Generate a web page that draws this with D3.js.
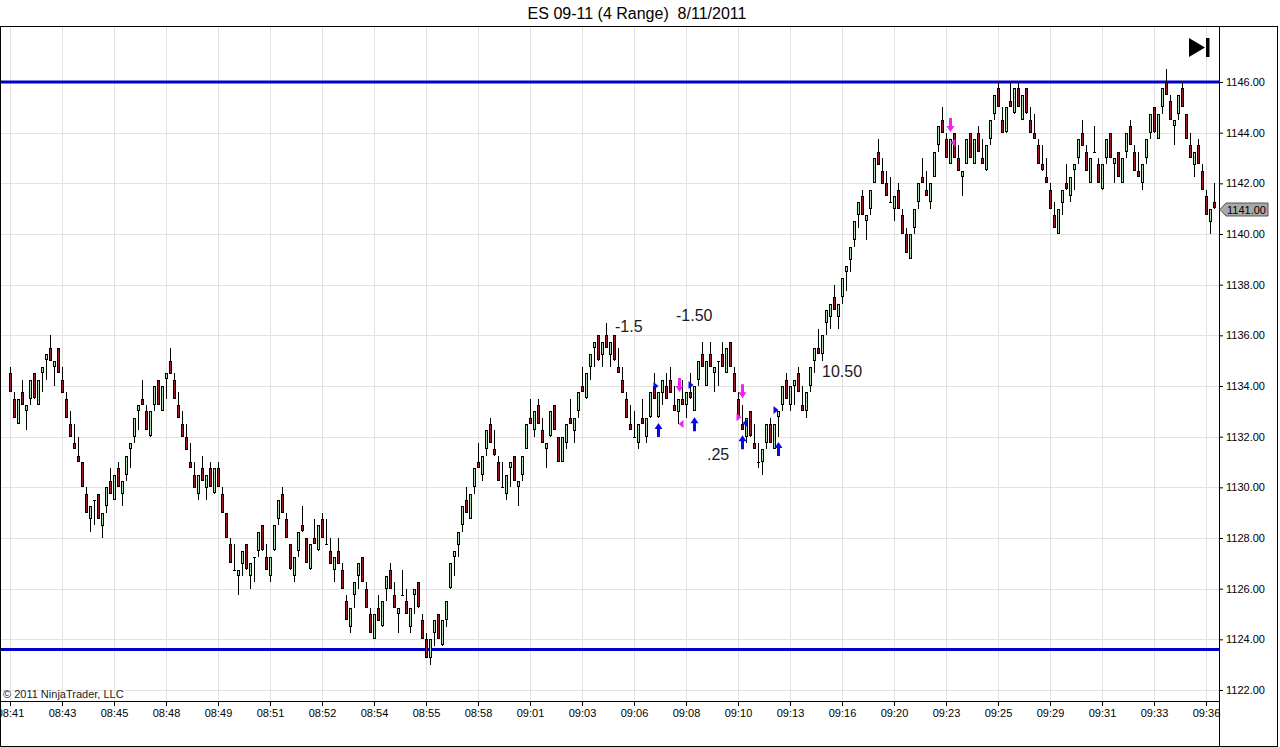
<!DOCTYPE html>
<html>
<head>
<meta charset="utf-8">
<script src="https://cdn.jsdelivr.net/npm/d3@7"></script>
<style>
  body { margin: 0; background: #fff; }
  svg text { font-family: Arial, "Liberation Sans", sans-serif; }
</style>
</head>
<body>
<div id="container"></div>
<script>
// ES 09-11, 4 tick range bars, 8/11/2011
const opens = [
  1134.5,1133.5,1132.5,1133.75,1133,1133.5,1134.5,1133.25,1134.5,1135,
  1135.5,1134.75,1135.5,1134.25,1133.5,1132.5,1131.75,1131.25,1131,1129.75,
  1128.75,1129.5,1129.75,1128.5,1129.25,1130.25,1129.5,1130.75,1129.75,1130.5,
  1131.5,1132,1133,1133.5,1133,1132,1133.25,1134.25,1133,1134.25,
  1135,1134.25,1133.25,1132.5,1132,1131,1130.5,1129.75,1130.75,1130,
  1130.75,1129.75,1130.75,1129.75,1129,1127.75,1126.75,1126.5,1127,1127.75,
  1126.5,1127.25,1127.5,1128.5,1127.25,1126.5,1127.5,1128.75,1129.75,1128.75,
  1127.75,1126.5,1127.5,1128.5,1128,1126.75,1128,1127.5,1128.75,1127.75,
  1127.5,1126.75,1127.5,1126.75,1125.5,1124.5,1125.75,1126.5,1127.25,1126,
  1125,1124,1125.25,1124.5,1126,1126.75,1125.75,1125,1125.75,1125.5,
  1124.5,1125.75,1126.25,1124.75,1124,1123.25,1124.25,1125,1123.75,1124.75,
  1126,1127.25,1127.75,1128.5,1129.5,1128.75,1130,1131,1130.5,1131.5,
  1132.5,1131.5,1131,1130,1129.75,1130.75,1131.25,1130,1130.5,1131.5,
  1132.75,1132.25,1133.25,1132.25,1131.5,1132,1133.25,1132,1131,1131.75,
  1132.75,1132.25,1133,1134,1133.5,1134.75,1135.5,1136,1135.25,1136,
  1135.25,1136,1134.75,1134.25,1133.5,1132.5,1132,1131.75,1132.75,1132,
  1132.75,1134,1132.75,1133.75,1134,1134.25,1133.25,1133,1133.5,1133.25,
  1133.75,1133,1134.25,1135.25,1134,1135.25,1134.5,1135,1135.25,1134.5,
  1135.75,1134.5,1133.5,1132.5,1132,1133,1131.75,1131,1131,1131.75,
  1132.5,1131.5,1132.75,1133.25,1134.25,1133.25,1134,1134.5,1133.25,1133,
  1134,1135,1135.5,1135.25,1136.5,1136.75,1137.5,1136.75,1137.5,1138.5,
  1139,1139.75,1140.75,1141.5,1140.5,1141,1142,1143.25,1142.5,1142,
  1141.25,1141,1141.75,1140.75,1140,1139,1140.25,1141.25,1142.25,1141.75,
  1141.25,1142.25,1143.5,1144.5,1143.75,1142.75,1144,1143,1142.25,1142.75,
  1144,1142.75,1144,1143,1142.5,1143.75,1144.75,1145.75,1144.5,1144,
  1145.25,1144.75,1145.75,1144.5,1145.75,1144.5,1144,1143.5,1142.75,1142.25,
  1141.75,1140.75,1140,1141.25,1142,1141.5,1142.5,1143,1144,1143.25,
  1142,1143.25,1142.75,1141.75,1143,1144,1142.75,1143.25,1142,1143.25,
  1144.25,1143.25,1142.5,1142,1143,1144,1145,1143.75,1145,1146,
  1145.25,1144.25,1144.75,1145.75,1144.75,1143.5,1142.75,1143.5,1142.5,1141.5,
  1140.5,1141.25
];
const highs = [
  1134.75,1133.75,1133.5,1134.25,1133.25,1134.25,1134.5,1134.25,1134.75,1135.25,
  1136,1135,1135.5,1134.75,1133.75,1133,1132.5,1132,1131,1130,
  1129.25,1129.5,1129.75,1129,1130,1130.75,1130.5,1131,1130.25,1131.25,
  1131.75,1132.75,1133.25,1134.25,1133.25,1133,1134,1134.25,1134,1134.5,
  1135.5,1134.5,1133.75,1133,1132.5,1131.75,1131,1130.5,1131.25,1130.5,
  1131,1130.75,1131,1130,1129,1128,1127.75,1126.75,1127.5,1127.75,
  1127,1127.25,1128.25,1128.5,1127.75,1127.25,1128.5,1129.5,1130,1129,
  1127.75,1127.25,1128.25,1129.25,1128,1127.75,1128.75,1128.5,1129,1128.75,
  1128,1127.25,1128,1127,1125.75,1125.25,1126.25,1127,1127.25,1126.25,
  1125.25,1125,1125.75,1125.5,1126.5,1127,1126.25,1125.25,1126.75,1126,
  1125.25,1126,1126.25,1125,1124.25,1124,1124.75,1125,1124.75,1125.5,
  1127,1127.5,1128.25,1129.25,1130,1129.75,1130.75,1131.75,1131.25,1132.25,
  1132.75,1132.25,1131.25,1131,1130.5,1131,1131.25,1130.25,1131.25,1132.5,
  1133.5,1133,1133.5,1132.75,1131.75,1133,1133.25,1132,1132,1132.5,
  1133.5,1132.75,1133.75,1134.75,1134.5,1135.25,1135.75,1136,1135.75,1136.5,
  1135.75,1136,1135.5,1134.75,1133.75,1133.25,1133,1132.5,1133.5,1132.75,
  1133.75,1134.5,1133.75,1134.25,1134.5,1134.75,1134,1133.5,1134.25,1133.75,
  1134.5,1134,1135,1135.75,1135,1135.75,1134.75,1135,1135.75,1135.5,
  1135.75,1134.75,1133.75,1133.25,1132.75,1133,1132.5,1131.75,1131.5,1132.5,
  1132.75,1132.5,1133,1134,1134.5,1134,1134.25,1134.75,1134,1133.75,
  1134.75,1135.5,1136.25,1136,1137,1137.25,1138,1137.25,1138.25,1138.75,
  1139.5,1140.5,1141.25,1141.75,1140.75,1141.75,1143,1143.75,1143,1142.5,
  1142.25,1141.5,1142,1141,1140.25,1140,1141,1142,1143,1142.5,
  1142,1143.25,1144.25,1145,1144,1143.75,1144,1143.5,1142.5,1143.75,
  1144,1143.75,1144.25,1143.75,1143.5,1144.5,1145.5,1146,1145,1145,
  1146,1145.75,1146,1145.5,1145.75,1145,1144.75,1143.75,1143.5,1143,
  1142,1141.25,1141,1141.75,1142.75,1142.25,1142.75,1143.75,1144.5,1143.5,
  1143,1144.25,1143,1142.75,1143.75,1144,1143,1143.25,1143,1144,
  1144.5,1143.5,1143.25,1142.75,1143.75,1144.75,1145,1144.75,1145.75,1146.5,
  1145.5,1144.5,1145.5,1146,1144.75,1144,1143.25,1143.75,1142.75,1141.75,
  1141,1142
];
const lows = [
  1133.75,1132.75,1132.5,1133.25,1132.25,1133.25,1133.5,1133.25,1133.75,1134.25,
  1135,1134,1134.5,1133.75,1132.75,1132,1131.5,1131,1130,1129,
  1128.25,1128.5,1128.75,1128,1129,1129.75,1129.5,1130,1129.25,1130.25,
  1130.75,1131.75,1132.25,1133.25,1132.25,1132,1133,1133.25,1133,1133.5,
  1134.5,1133.5,1132.75,1132,1131.5,1130.75,1130,1129.5,1130.25,1129.5,
  1130,1129.75,1130,1129,1128,1127,1126.75,1125.75,1126.5,1126.75,
  1126,1126.25,1127.25,1127.5,1126.75,1126.25,1127.5,1128.5,1129,1128,
  1126.75,1126.25,1127.25,1128.25,1127,1126.75,1127.75,1127.5,1128,1127.75,
  1127,1126.25,1127,1126,1124.75,1124.25,1125.25,1126,1126.25,1125.25,
  1124.25,1124,1124.75,1124.5,1125.5,1126,1125.25,1124.25,1125.75,1125,
  1124.25,1125,1125.25,1124,1123.25,1123,1123.75,1124,1123.75,1124.5,
  1126,1126.5,1127.25,1128.25,1129,1128.75,1129.75,1130.75,1130.25,1131.25,
  1131.75,1131.25,1130.25,1130,1129.5,1130,1130.25,1129.25,1130.25,1131.5,
  1132.5,1132,1132.5,1131.75,1130.75,1132,1132.25,1131,1131,1131.5,
  1132.5,1131.75,1132.75,1133.75,1133.5,1134.25,1134.75,1135,1134.75,1135.5,
  1134.75,1135,1134.5,1133.75,1132.75,1132.25,1132,1131.5,1132.5,1131.75,
  1132.75,1133.5,1132.75,1133.25,1133.5,1133.75,1133,1132.5,1133.25,1132.75,
  1133.5,1133,1134,1134.75,1134,1134.75,1133.75,1134,1134.75,1134.5,
  1134.75,1133.75,1132.75,1132.25,1131.75,1132,1131.5,1130.75,1130.5,1131.5,
  1131.75,1131.5,1132,1133,1133.5,1133,1133.25,1133.75,1133,1132.75,
  1133.75,1134.5,1135.25,1135,1136,1136.25,1137,1136.25,1137.25,1137.75,
  1138.5,1139.5,1140.25,1140.75,1139.75,1140.75,1142,1142.75,1142,1141.5,
  1141.25,1140.5,1141,1140,1139.25,1139,1140,1141,1142,1141.5,
  1141,1142.25,1143.25,1144,1143,1142.75,1143,1142.5,1141.5,1142.75,
  1143,1142.75,1143.25,1142.75,1142.5,1143.5,1144.5,1145,1144,1144,
  1145,1144.75,1145,1144.5,1144.75,1144,1143.75,1142.75,1142.5,1142,
  1141,1140.25,1140,1140.75,1141.75,1141.25,1141.75,1142.75,1143.5,1142.5,
  1142,1143.25,1142,1141.75,1142.75,1143,1142,1142.25,1142,1143,
  1143.5,1142.5,1142.25,1141.75,1142.75,1143.75,1144,1143.75,1144.75,1145.5,
  1144.5,1143.5,1144.5,1145,1143.75,1143,1142.25,1142.75,1141.75,1140.75,
  1140,1141
];
const closes = [
  1133.75,1132.75,1133.5,1133.25,1133.25,1134.25,1133.5,1134.25,1134.75,1135.25,
  1135,1135,1134.5,1133.75,1132.75,1132,1131.5,1131,1130,1129,
  1129.25,1129.5,1128.75,1129,1130,1129.75,1130.5,1130,1130.25,1131.25,
  1131.75,1132.75,1133.25,1133.25,1132.25,1133,1134,1133.25,1134,1134.5,
  1134.5,1133.5,1132.75,1132,1131.5,1130.75,1130,1130.5,1130.25,1130.5,
  1130,1130.75,1130,1129,1128,1127,1126.75,1126.75,1127.5,1126.75,
  1127,1127.25,1128.25,1127.5,1126.75,1127.25,1128.5,1129.5,1129,1128,
  1126.75,1127.25,1128.25,1128.25,1127,1127.75,1127.75,1128.5,1128,1127.75,
  1127,1127.25,1127,1126,1124.75,1125.25,1126.25,1127,1126.25,1125.25,
  1124.25,1125,1124.75,1125.5,1126.5,1126,1125.25,1125.25,1125.75,1125,
  1125.25,1126,1125.25,1124,1123.25,1124,1124.75,1124,1124.75,1125.5,
  1127,1127.5,1128.25,1129.25,1129,1129.75,1130.75,1130.75,1131.25,1132.25,
  1131.75,1131.25,1130.25,1130,1130.5,1131,1130.25,1130.25,1131.25,1132.5,
  1132.5,1133,1132.5,1131.75,1131.75,1133,1132.25,1131,1132,1132.5,
  1132.5,1132.75,1133.75,1133.75,1134.5,1135.25,1135.75,1135,1135.75,1135.5,
  1135.75,1135,1134.5,1133.75,1132.75,1132.25,1132,1132.5,1132.5,1132.75,
  1133.75,1133.5,1133.75,1134.25,1133.5,1133.75,1133,1133.5,1133.25,1133.75,
  1133.5,1134,1135,1134.75,1135,1134.75,1134.75,1135,1134.75,1135.5,
  1134.75,1133.75,1132.75,1132.25,1132.75,1132,1131.5,1131,1131.5,1132.5,
  1131.75,1132.5,1133,1134,1133.5,1134,1134.25,1133.75,1133,1133.75,
  1134.75,1135.5,1135.25,1136,1137,1137.25,1137,1137.25,1138.25,1138.75,
  1139.5,1140.5,1141.25,1140.75,1140.75,1141.75,1143,1142.75,1142,1141.5,
  1141.25,1141.5,1141,1140,1139.25,1140,1141,1142,1142,1141.5,
  1142,1143.25,1144.25,1144,1143,1143.75,1143,1142.5,1142.5,1143.75,
  1143,1143.75,1143.25,1142.75,1143.5,1144.5,1145.5,1145,1144,1145,
  1145,1145.75,1145,1145.5,1144.75,1144,1143.75,1142.75,1142.5,1142,
  1141,1140.25,1141,1141.75,1141.75,1142.25,1142.75,1143.75,1143.5,1142.5,
  1143,1143.25,1142,1142.75,1143.75,1143,1143,1142.25,1143,1144,
  1143.5,1142.5,1142.25,1142.75,1143.75,1144.75,1144,1144.75,1145.75,1145.5,
  1144.5,1144.5,1145.5,1145,1143.75,1143,1143.25,1142.75,1141.75,1140.75,
  1141,1141
];

const timeLabels = ["08:41","08:43","08:45","08:48","08:49","08:51","08:52","08:54","08:55","08:58","09:01","09:03",
                    "09:06","09:08","09:10","09:13","09:16","09:20","09:23","09:25","09:29","09:31","09:33","09:36"];
const barsPerLabel = 13;
const priceTicks = [1122,1124,1126,1128,1130,1132,1134,1136,1138,1140,1142,1144,1146];
const levels = [1146, 1123.6];
const lastPrice = 1141;

// text notes and signal marks: bar index + price
const noteText = ["-1.5", "-1.50", ".25", "10.50"];
const noteBar = [151.25, 166.5, 174.25, 203];
const notePrice = [1136.13, 1136.56, 1131.08, 1134.35];

const markBar = [162, 161.25, 167.25, 167.75, 170, 171, 183, 182, 183.75, 183, 191.25, 192, 235, 235.75];
const markPrice = [1132.54, 1134.0, 1133.76, 1132.5, 1134.04, 1132.77, 1133.52, 1132.77, 1132.54, 1132.06, 1133.05, 1131.79, 1144.03, 1143.6];
const markType = ["up","right","down","left","right","up","down","right","left","up","right","up","down","left"];
const markColor = ["b","b","m","m","b","b","m","m","b","b","b","b","m","m"];

const W = 1280, H = 747;
const plotLeft = 1, plotRight = 1219, plotTop = 27, plotBottom = 701;

const svg = d3.select('#container')
    .append('svg')
    .attr('width', W)
    .attr('height', H);

const x = d3.scaleLinear()
    .domain([0, opens.length - 1])
    .range([10, 1214]);

const y = d3.scaleLinear()
    .domain([1122, 1146])
    .range([690, 82]);

svg.append('clipPath').attr('id', 'plot')
    .append('rect')
    .attr('x', plotLeft).attr('y', plotTop)
    .attr('width', plotRight - plotLeft).attr('height', plotBottom - plotTop);

// title (two spaces before the date)
svg.append('text')
    .attr('x', 637)
    .attr('y', 19)
    .attr('text-anchor', 'middle')
    .style('font-size', '16px')
    .text('ES 09-11 (4 Range) \u00a08/11/2011');

const labelBars = timeLabels.map((t, k) => k * barsPerLabel);

// grid
const grid = svg.append('g').attr('clip-path', 'url(#plot)');
grid.selectAll('.vg')
    .data(labelBars)
    .enter()
    .append('line')
    .attr('x1', d => x(d) + 0.5).attr('x2', d => x(d) + 0.5)
    .attr('y1', plotTop).attr('y2', plotBottom)
    .attr('stroke', '#e2e2e2');
grid.selectAll('.hg')
    .data(priceTicks)
    .enter()
    .append('line')
    .attr('x1', plotLeft).attr('x2', plotRight)
    .attr('y1', d => Math.round(y(d)) + 0.5).attr('y2', d => Math.round(y(d)) + 0.5)
    .attr('stroke', '#e2e2e2');

// level lines
grid.selectAll('.lvl')
    .data(levels)
    .enter()
    .append('line')
    .attr('x1', plotLeft).attr('x2', plotRight)
    .attr('y1', d => y(d)).attr('y2', d => y(d))
    .attr('stroke', '#0000cd')
    .attr('stroke-width', 3);

// candles
const candles = grid.append('g')
    .selectAll('g')
    .data(d3.range(opens.length))
    .enter()
    .append('g');

candles.append('line')
    .attr('x1', i => x(i) + 0.5).attr('x2', i => x(i) + 0.5)
    .attr('y1', i => Math.round(y(highs[i])))
    .attr('y2', i => Math.round(y(lows[i])))
    .attr('stroke', '#000');

candles.filter(i => opens[i] !== closes[i])
    .append('rect')
    .attr('x', i => x(i) - 0.5)
    .attr('width', 2)
    .attr('y', i => Math.round(y(Math.max(opens[i], closes[i]))) + 0.5)
    .attr('height', i => Math.max(1, Math.round(Math.abs(y(opens[i]) - y(closes[i]))) - 1))
    .attr('fill', i => closes[i] > opens[i] ? '#acdcac' : '#9c1a2a')
    .attr('stroke', '#000')
    .attr('stroke-width', 1);

candles.filter(i => opens[i] === closes[i])
    .append('line')
    .attr('x1', i => x(i) - 1).attr('x2', i => x(i) + 2)
    .attr('y1', i => Math.round(y(opens[i])) + 0.5)
    .attr('y2', i => Math.round(y(opens[i])) + 0.5)
    .attr('stroke', '#000');

// signal marks
const colorOf = { b: '#0a0ae6', m: '#f020f0' };
const shapeOf = {
    up: 'M0,0 L-4,6 L-1.5,6 L-1.5,14 L1.5,14 L1.5,6 L4,6 Z',
    down: 'M0,0 L-4,-6 L-1.5,-6 L-1.5,-14 L1.5,-14 L1.5,-6 L4,-6 Z',
    right: 'M-2,-4 L3,0 L-2,4 Z',
    left: 'M2,-4 L-3,0 L2,4 Z'
};
grid.selectAll('.mark')
    .data(d3.range(markBar.length))
    .enter()
    .append('path')
    .attr('transform', k => `translate(${x(markBar[k]) + 0.5},${y(markPrice[k])})`)
    .attr('d', k => shapeOf[markType[k]])
    .attr('fill', k => colorOf[markColor[k]]);

// notes
grid.selectAll('.note')
    .data(d3.range(noteText.length))
    .enter()
    .append('text')
    .attr('x', k => x(noteBar[k]))
    .attr('y', k => y(notePrice[k]))
    .style('font-size', '16px')
    .attr('fill', '#1a1a1a')
    .text(k => noteText[k]);

svg.append('text')
    .attr('x', 3)
    .attr('y', 698)
    .style('font-size', '11px')
    .attr('fill', '#222')
    .text('\u00a9 2011 NinjaTrader, LLC');

// axes
const xAxis = svg.append('g')
    .attr('transform', `translate(0, ${plotBottom})`)
    .call(d3.axisBottom(x)
        .tickValues(labelBars)
        .tickFormat((d, k) => timeLabels[k])
        .tickSize(5)
        .tickSizeOuter(0));
xAxis.select('.domain').remove();
xAxis.selectAll('text').style('font-size', '11px').style('font-family', 'Arial, "Liberation Sans", sans-serif').attr('fill', '#000');

const yAxis = svg.append('g')
    .attr('transform', `translate(${plotRight}, 0)`)
    .call(d3.axisRight(y)
        .tickValues(priceTicks)
        .tickFormat(d3.format('.2f'))
        .tickSize(4)
        .tickSizeOuter(0));
yAxis.select('.domain').remove();
yAxis.selectAll('text').style('font-size', '11px').style('font-family', 'Arial, "Liberation Sans", sans-serif').attr('fill', '#000');

// frame
svg.append('line')
    .attr('x1', 0).attr('x2', 1278)
    .attr('y1', 26.5).attr('y2', 26.5)
    .attr('stroke', '#000');
svg.append('line')
    .attr('x1', 0.5).attr('x2', 0.5)
    .attr('y1', 26.5).attr('y2', 746.5)
    .attr('stroke', '#000');
svg.append('line')
    .attr('x1', 0).attr('x2', 1278)
    .attr('y1', 746.5).attr('y2', 746.5)
    .attr('stroke', '#000');
svg.append('line')
    .attr('x1', 1277.5).attr('x2', 1277.5)
    .attr('y1', 26.5).attr('y2', 746.5)
    .attr('stroke', '#000');
svg.append('line')
    .attr('x1', 0).attr('x2', plotRight)
    .attr('y1', plotBottom + 0.5).attr('y2', plotBottom + 0.5)
    .attr('stroke', '#000');
svg.append('line')
    .attr('x1', plotRight + 0.5).attr('x2', plotRight + 0.5)
    .attr('y1', 26.5).attr('y2', 746.5)
    .attr('stroke', '#000');

// last price tag
const ly = Math.round(y(lastPrice)) + 0.5;
svg.append('path')
    .attr('d', `M${plotRight + 1},${ly} L${plotRight + 7},${ly - 6.5} L1268,${ly - 6.5} L1268,${ly + 6.5} L${plotRight + 7},${ly + 6.5} Z`)
    .attr('fill', '#a9a9a9')
    .attr('stroke', '#555');
svg.append('text')
    .attr('x', 1227)
    .attr('y', ly + 4)
    .style('font-size', '11px')
    .text(d3.format('.2f')(lastPrice));

// scroll-to-end icon
svg.append('path')
    .attr('d', 'M1189,38 L1205,47.5 L1189,57 Z')
    .attr('fill', '#000');
svg.append('rect')
    .attr('x', 1206).attr('y', 38)
    .attr('width', 3.5).attr('height', 19)
    .attr('fill', '#000');
</script>
</body>
</html>
